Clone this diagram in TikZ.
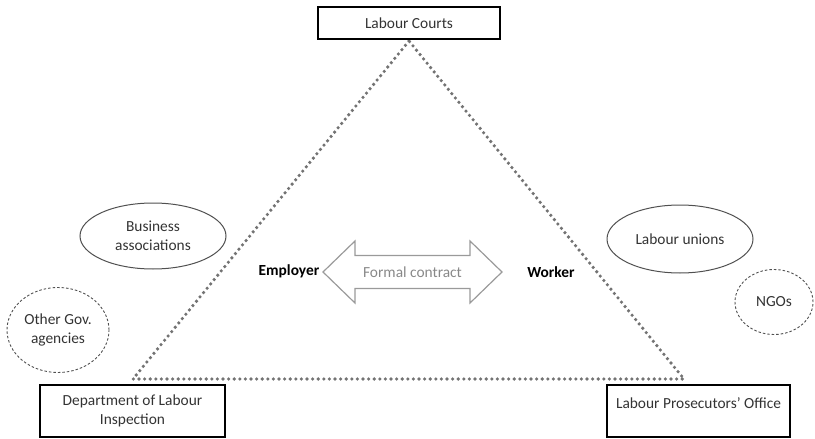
\documentclass[tikz,border=0pt]{standalone}
\usepackage{fontspec}
\setmainfont{Carlito}
\usetikzlibrary{shapes.geometric}
\definecolor{dotgray}{HTML}{737373}
\definecolor{txtgray}{HTML}{333333}
\definecolor{ovalgray}{HTML}{505050}
\definecolor{arrowgray}{HTML}{9A9A9A}
\definecolor{arrowtxt}{HTML}{888888}
\begin{document}
\begin{tikzpicture}[x=1pt,y=-1pt,
  base/.style={font=\fontsize{15.4}{18.5}\selectfont, text=txtgray, align=center, inner sep=0pt},
  bigbox/.style={base, rectangle, draw=black, line width=2pt},
  oval/.style={base, ellipse, draw=ovalgray, line width=1pt},
  dashoval/.style={base, ellipse, draw=ovalgray, line width=0.9pt, dash pattern=on 2.5pt off 2pt},
  party/.style={base, font=\fontsize{15.4}{18.5}\selectfont\bfseries, text=black},
  tri/.style={draw=dotgray, line width=3.6pt, line cap=round, dash pattern=on 0pt off 5.6pt},
  arrowline/.style={draw=arrowgray, line width=1.2pt, line join=miter}
]
\useasboundingbox (0,0) rectangle (815,439);

% triangle
\coordinate (apex) at (409,41);
\coordinate (bl) at (133,379);
\coordinate (br) at (684,379);
\draw[tri] (apex) -- (bl) -- (br) -- cycle;

% boxes
\node[bigbox, minimum width=182, minimum height=32] (courts) at (409,23) {Labour Courts};
\node[bigbox, minimum width=185, minimum height=52] (dli) at (132.5,411) {Department of Labour\\Inspection};
\node[bigbox, minimum width=183, minimum height=52] (lpo) at (698.5,411) {Labour Prosecutors' Office\\[-2pt]\mbox{}};

% ovals
\node[oval, minimum width=146, minimum height=66] (biz) at (153,236) {Business\\associations};
\node[oval, minimum width=146, minimum height=68] (unions) at (680,239) {Labour unions};
\node[dashoval, minimum width=102, minimum height=85] (gov) at (58,330) {Other Gov.\\agencies};
\node[dashoval, minimum width=78, minimum height=65] (ngo) at (774,302) {NGOs};

% parties
\node[party] (emp) at (289,271) {Employer};
\node[party] (wrk) at (551,272) {Worker};

% contract arrow
\coordinate (arrowc) at (412.5,272);
\draw[arrowline] (arrowc) ++(-89.5,0) -- ++(32,-31) -- ++(0,14.5) -- ++(115,0) -- ++(0,-14.5)
  -- ++(32,31) -- ++(-32,31) -- ++(0,-14.5) -- ++(-115,0) -- ++(0,14.5) -- cycle;
\node[base, text=arrowtxt] (contract) at (arrowc) {Formal contract};
\end{tikzpicture}
\end{document}
